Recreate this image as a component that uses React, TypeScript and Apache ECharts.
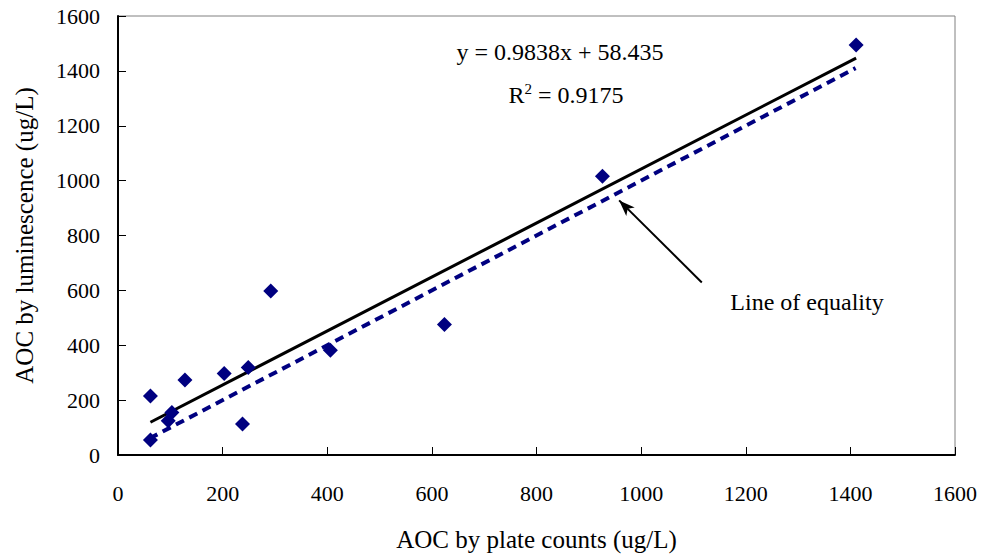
import React, { useEffect, useRef } from "react";
import * as echarts from "echarts";

const points: [number, number][] = [
  [62, 215], [62, 55], [96, 125], [103, 155], [128, 273], [203, 297], [238, 113],
  [249, 319], [292, 598], [406, 382], [624, 476], [926, 1016], [1411, 1494],
];
const slope = 0.9838;
const intercept = 58.435;
const trendX = [62, 1411];
const equalityX = [60, 1410];
const arrowFrom: [number, number] = [1116, 629];
const arrowTo: [number, number] = [958, 928];

const FONT = "'Liberation Serif', 'Times New Roman', serif";

export default function App() {
  const ref = useRef<HTMLDivElement>(null);
  useEffect(() => {
    document.body.style.margin = "0";
    const chart = echarts.init(ref.current!, null, { renderer: "svg" });
    const navy = "#000080";
    chart.setOption({
      animation: false,
      backgroundColor: "#fff",
      grid: { left: 118, right: 27, top: 16, bottom: 101, show: true, borderColor: "#808080", borderWidth: 1 },
      xAxis: {
        type: "value", min: 0, max: 1600, interval: 200,
        name: "AOC by plate counts (ug/L)", nameLocation: "middle", nameGap: 72,
        nameTextStyle: { fontFamily: FONT, fontSize: 25, color: "#000" },
        axisLine: { show: true, onZero: false, lineStyle: { color: "#000", width: 2 } },
        axisTick: { show: true, inside: true, length: 8, lineStyle: { color: "#000" } },
        axisLabel: { margin: 27, fontFamily: FONT, fontSize: 22, color: "#000", formatter: (v: number) => String(v) },
        splitLine: { show: false },
      },
      yAxis: {
        type: "value", min: 0, max: 1600, interval: 200,
        name: "AOC by luminescence (ug/L)", nameLocation: "middle", nameGap: 81,
        nameTextStyle: { fontFamily: FONT, fontSize: 25, color: "#000" },
        axisLine: { show: true, lineStyle: { color: "#000", width: 2 } },
        axisTick: { show: true, inside: true, length: 8, lineStyle: { color: "#000" } },
        axisLabel: { margin: 18, fontFamily: FONT, fontSize: 22, color: "#000", formatter: (v: number) => String(v) },
        splitLine: { show: false },
      },
      series: [
        {
          type: "line",
          data: equalityX.map((x) => [x, x]),
          symbol: "none",
          lineStyle: { color: navy, width: 4, type: [9, 6] },
          z: 2,
        },
        {
          type: "line",
          data: trendX.map((x) => [x, slope * x + intercept]),
          symbol: "none",
          lineStyle: { color: "#000", width: 3 },
          z: 3,
        },
        {
          type: "scatter",
          data: points,
          symbol: "diamond",
          symbolSize: 15,
          itemStyle: { color: navy, opacity: 1 },
          z: 4,
          markLine: {
            silent: true,
            symbol: ["none", "arrow"],
            symbolSize: [9, 16],
            label: { show: false },
            lineStyle: { color: "#000", width: 2, type: "solid" },
            data: [[{ coord: arrowFrom }, { coord: arrowTo }]],
          },
        },
      ],
      graphic: [
        {
          type: "text", x: 560, y: 52,
          style: { text: "y = 0.9838x + 58.435", font: `24px ${FONT}`, fill: "#000", align: "center", verticalAlign: "middle" },
        },
        {
          type: "text", x: 566, y: 95,
          style: {
            text: "R{sup|2} = 0.9175",
            font: `24px ${FONT}`, fill: "#000", align: "center", verticalAlign: "middle",
            rich: { sup: { fontFamily: FONT, fontSize: 15, verticalAlign: "top", padding: [0, 0, 12, 0] } },
          },
        },
        {
          type: "text", x: 807, y: 302,
          style: { text: "Line of equality", font: `24px ${FONT}`, fill: "#000", align: "center", verticalAlign: "middle" },
        },
      ],
    });
    return () => chart.dispose();
  }, []);
  return <div ref={ref} style={{ width: 982, height: 557 }} />;
}
